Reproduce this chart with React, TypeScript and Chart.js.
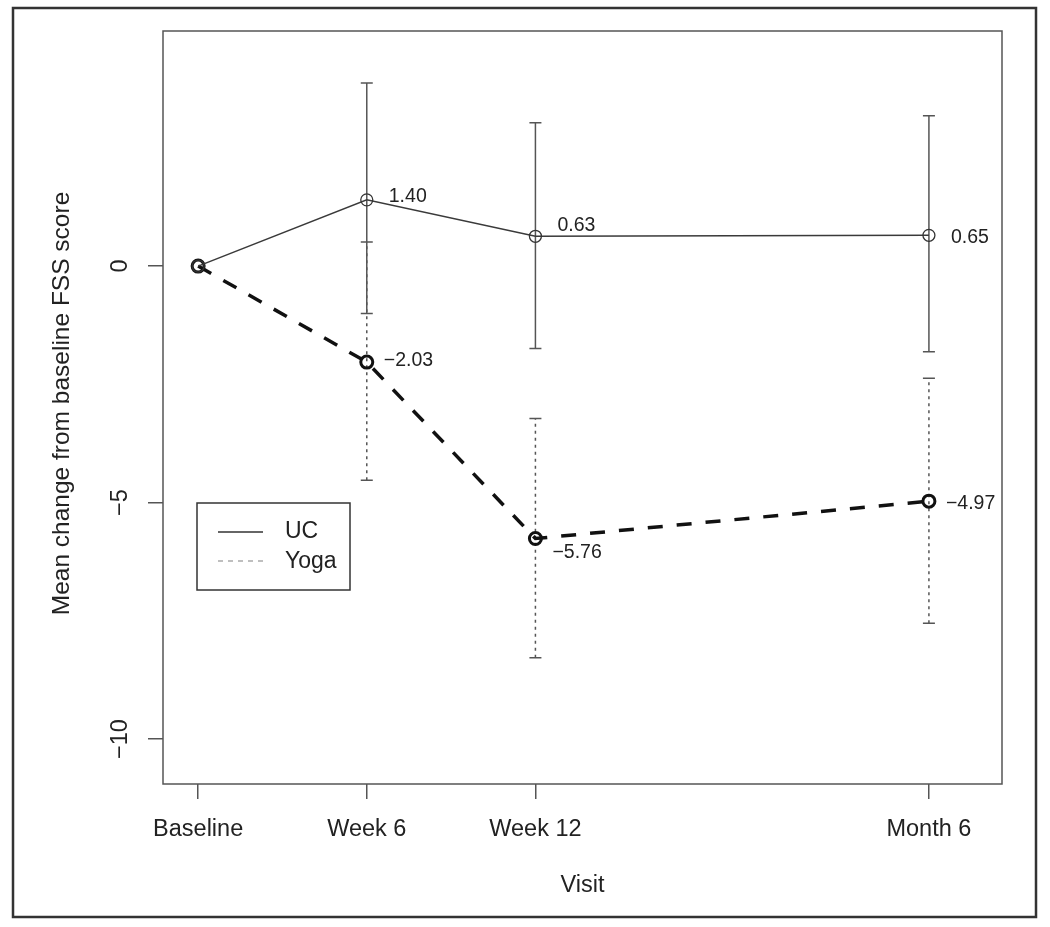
import React, { useEffect, useRef } from "react";
import { Chart, registerables } from "chart.js";

Chart.register(...registerables);

// ---- data ----
const visits = ["Baseline", "Week 6", "Week 12", "Month 6"];
const visitWeeks = [0, 6, 12, 26];
const ucMean = [0, 1.4, 0.63, 0.65];
const ucLower = [null, -1.0, -1.74, -1.81];
const ucUpper = [null, 3.87, 3.03, 3.18];
const yogaMean = [0, -2.03, -5.76, -4.97];
const yogaLower = [null, -4.53, -8.28, -7.55];
const yogaUpper = [null, 0.51, -3.22, -2.37];
const ucLabels = ["", "1.40", "0.63", "0.65"];
const yogaLabels = ["", "\u22122.03", "\u22125.76", "\u22124.97"];
const yTicks = [-10, -5, 0];
const yTickLabels = ["\u221210", "\u22125", "0"];
const seriesNames = ["UC", "Yoga"];
const xTitle = "Visit";
const yTitle = "Mean change from baseline FSS score";

const FONT = "'Liberation Sans', Arial, Helvetica, sans-serif";
const TEXT = "#222";

const decorPlugin = {
  id: "decor",
  beforeDraw(chart: any) {
    const { ctx, width, height } = chart;
    ctx.save();
    ctx.fillStyle = "#fff";
    ctx.fillRect(0, 0, width, height);
    ctx.restore();
  },
  beforeDatasetsDraw(chart: any) {
    const { ctx } = chart;
    const xs = chart.scales.x;
    const ys = chart.scales.y;
    const cap = 6;
    const drawBars = (lo: any[], hi: any[], dash: number[]) => {
      for (let i = 0; i < visitWeeks.length; i++) {
        if (lo[i] == null || hi[i] == null) continue;
        const px = xs.getPixelForValue(visitWeeks[i]);
        const p1 = ys.getPixelForValue(lo[i]);
        const p2 = ys.getPixelForValue(hi[i]);
        ctx.save();
        ctx.strokeStyle = "#555";
        ctx.lineWidth = 1.5;
        ctx.setLineDash(dash);
        ctx.beginPath();
        ctx.moveTo(px, p1);
        ctx.lineTo(px, p2);
        ctx.stroke();
        ctx.setLineDash([]);
        ctx.beginPath();
        ctx.moveTo(px - cap, p1);
        ctx.lineTo(px + cap, p1);
        ctx.moveTo(px - cap, p2);
        ctx.lineTo(px + cap, p2);
        ctx.stroke();
        ctx.restore();
      }
    };
    drawBars(yogaLower, yogaUpper, [3, 4]);
    drawBars(ucLower, ucUpper, []);
  },
  afterDraw(chart: any) {
    const { ctx, chartArea } = chart;
    const xs = chart.scales.x;
    const ys = chart.scales.y;
    ctx.save();
    // plot frame
    ctx.strokeStyle = "#555";
    ctx.lineWidth = 1.5;
    ctx.strokeRect(
      chartArea.left,
      chartArea.top,
      chartArea.right - chartArea.left,
      chartArea.bottom - chartArea.top
    );
    // outer frame
    ctx.strokeStyle = "#333";
    ctx.lineWidth = 2.5;
    ctx.strokeRect(13, 8, 1023, 909);

    // y tick labels (rotated like R)
    ctx.fillStyle = TEXT;
    ctx.font = `23.5px ${FONT}`;
    ctx.textAlign = "center";
    ctx.textBaseline = "middle";
    yTicks.forEach((v, i) => {
      const py = ys.getPixelForValue(v);
      ctx.save();
      ctx.translate(121, py);
      ctx.rotate(-Math.PI / 2);
      ctx.fillText(yTickLabels[i], 0, 0);
      ctx.restore();
    });

    // axis titles
    ctx.save();
    ctx.font = `24.5px ${FONT}`;
    ctx.translate(62, (chartArea.top + chartArea.bottom) / 2 - 4);
    ctx.rotate(-Math.PI / 2);
    ctx.fillText(yTitle, 0, 0);
    ctx.restore();
    ctx.fillText(xTitle, (chartArea.left + chartArea.right) / 2, 886);

    // value labels
    ctx.font = `19.5px ${FONT}`;
    ctx.textAlign = "left";
    const ucDy = [0, -3, -11, 2];
    const yogaDy = [0, -1, 14, 2];
    for (let i = 0; i < visitWeeks.length; i++) {
      const px = xs.getPixelForValue(visitWeeks[i]);
      if (ucLabels[i]) {
        ctx.fillText(ucLabels[i], px + 22, ys.getPixelForValue(ucMean[i]) + ucDy[i]);
      }
      if (yogaLabels[i]) {
        ctx.fillText(yogaLabels[i], px + 17, ys.getPixelForValue(yogaMean[i]) + yogaDy[i]);
      }
    }

    // legend
    ctx.strokeStyle = "#333";
    ctx.lineWidth = 1.5;
    ctx.strokeRect(197, 503, 153, 87);
    ctx.beginPath();
    ctx.moveTo(218, 532);
    ctx.lineTo(263, 532);
    ctx.stroke();
    ctx.strokeStyle = "#aaa";
    ctx.setLineDash([5, 5]);
    ctx.beginPath();
    ctx.moveTo(218, 561);
    ctx.lineTo(263, 561);
    ctx.stroke();
    ctx.setLineDash([]);
    ctx.font = `23px ${FONT}`;
    ctx.fillStyle = TEXT;
    ctx.fillText(seriesNames[0], 285, 532);
    ctx.fillText(seriesNames[1], 285, 562);
    ctx.restore();
  },
};

export default function App() {
  const canvasRef = useRef<HTMLCanvasElement | null>(null);

  useEffect(() => {
    const canvas = canvasRef.current;
    if (!canvas) return;
    const chart = new Chart(canvas, {
      type: "scatter",
      data: {
        datasets: [
          {
            label: seriesNames[0],
            data: visitWeeks.map((x, i) => ({ x, y: ucMean[i] })),
            showLine: true,
            borderColor: "#3a3a3a",
            borderWidth: 1.5,
            pointRadius: 6,
            pointBorderWidth: 1.3,
            pointBorderColor: "#333",
            pointBackgroundColor: "rgba(0,0,0,0)",
          },
          {
            label: seriesNames[1],
            data: visitWeeks.map((x, i) => ({ x, y: yogaMean[i] })),
            showLine: true,
            borderColor: "#111",
            borderWidth: 3.5,
            borderDash: [15, 14],
            pointRadius: 6,
            pointBorderWidth: 3,
            pointBorderColor: "#111",
            pointBackgroundColor: "rgba(0,0,0,0)",
          },
        ],
      },
      options: {
        animation: false,
        responsive: false,
        devicePixelRatio: 1,
        layout: { padding: { left: 0, right: 48, top: 31, bottom: 0 } },
        plugins: {
          legend: { display: false },
          tooltip: { enabled: false },
        },
        scales: {
          x: {
            type: "linear",
            min: -1.25,
            max: 28.6,
            afterBuildTicks: (s: any) => {
              s.ticks = visitWeeks.map((v) => ({ value: v }));
            },
            afterFit: (s: any) => {
              s.height = 143;
            },
            ticks: {
              autoSkip: false,
              maxRotation: 0,
              minRotation: 0,
              padding: 16,
              color: TEXT,
              font: { family: FONT, size: 23.5 },
              callback: (v: any) => {
                const i = visitWeeks.indexOf(Number(v));
                return i >= 0 ? visits[i] : "";
              },
            },
            grid: {
              drawOnChartArea: false,
              drawTicks: true,
              tickLength: 15,
              color: "#555",
              lineWidth: 1.5,
            },
            border: { display: false },
          },
          y: {
            type: "linear",
            min: -10.95,
            max: 4.97,
            afterBuildTicks: (s: any) => {
              s.ticks = yTicks.map((v) => ({ value: v }));
            },
            afterFit: (s: any) => {
              s.width = 163;
            },
            ticks: {
              color: "rgba(0,0,0,0)",
              font: { family: FONT, size: 23 },
            },
            grid: {
              drawOnChartArea: false,
              drawTicks: true,
              tickLength: 15,
              color: "#555",
              lineWidth: 1.5,
            },
            border: { display: false },
          },
        },
      },
      plugins: [decorPlugin],
    } as any);
    return () => chart.destroy();
  }, []);

  return (
    <div
      style={{
        position: "absolute",
        left: 0,
        top: 0,
        width: 1050,
        height: 927,
        background: "#fff",
      }}
    >
      <canvas ref={canvasRef} width={1050} height={927} style={{ display: "block" }} />
    </div>
  );
}
